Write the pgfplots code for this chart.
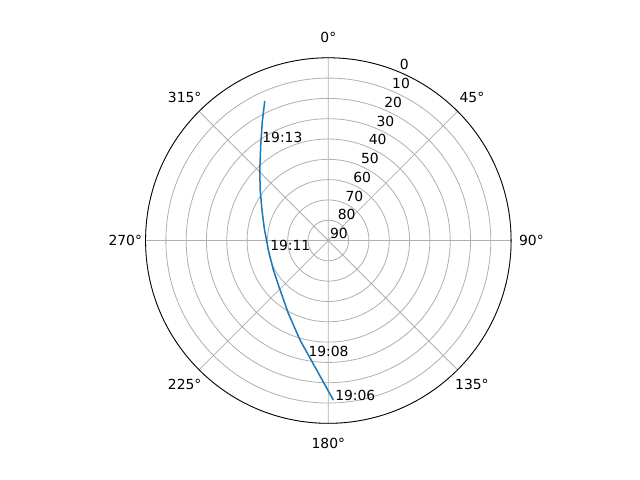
\documentclass[border=0pt]{standalone}
\usepackage{fontspec}
\setmainfont{DejaVu Sans}
\usepackage{pgfplots}
\usepgfplotslibrary{polar}
\pgfplotsset{compat=1.18}
\definecolor{mplblue}{HTML}{1F77B4}
\definecolor{gridgray}{HTML}{B0B0B0}

\begin{document}
\fontsize{10}{12}\selectfont
\begin{tikzpicture}[x=1pt,y=1pt]
\fill[white] (0,0) rectangle (460.8,345.6);
\begin{polaraxis}[
  at={(236.4pt,172.4pt)}, anchor=center,
  width=263.2pt, height=263.2pt, scale only axis,
  xmin=0, xmax=360, ymin=0, ymax=90,
  xtick={0,45,...,315}, ytick={0,10,...,90},
  xticklabels={}, yticklabels={},
  grid=major, major grid style={gridgray, line width=0.58pt},
  major tick length=0pt,
  x axis line style={black, line width=0.58pt},
  y axis line style={draw=none},
  clip=false,
]
% pass: azimuth (clockwise from north), elevation
\addplot[mplblue, line width=1.08pt,
  x filter/.expression={90-x}, y filter/.expression={90-y}]
  coordinates {
  (178.2,11.4) (184.2,24.4) (188.9,31.5) (195.9,39.1)
  (208.8,49.1) (224.3,56.0) (241.8,59.3) (261.0,60.1) (280.8,57.9)
  (295.8,53.6) (307.4,47.7) (316.5,41.0) (324.7,32.4) (330.9,23.1)
  (335.5,14.5)
  };
% time labels (polar angle ccw from east, radius = 90 - elevation)
\node[anchor=base west, inner sep=0pt] at (axis cs:124.1,58.2) {19:13};
\node[anchor=base west, inner sep=0pt] at (axis cs:189.3,29.1) {19:11};
\node[anchor=base west, inner sep=0pt] at (axis cs:260.2,58.0) {19:08};
\node[anchor=base west, inner sep=0pt] at (axis cs:272.4,78.6) {19:06};
% radial labels
\pgfplotsinvokeforeach{0,10,...,90}{
  \node[anchor=south west, inner sep=1pt] at (axis cs:67.5,#1)
    {\pgfmathparse{int(90-#1)}\pgfmathresult};
}
% angle labels
\node at (axis cs:90,100) {0°};
\node at (axis cs:45,100) {45°};
\node at (axis cs:0,100) {90°};
\node at (axis cs:-45,100) {135°};
\node at (axis cs:-90,100) {180°};
\node at (axis cs:-135,100) {225°};
\node at (axis cs:180,100) {270°};
\node at (axis cs:135,100) {315°};
\end{polaraxis}
\end{tikzpicture}
\end{document}
